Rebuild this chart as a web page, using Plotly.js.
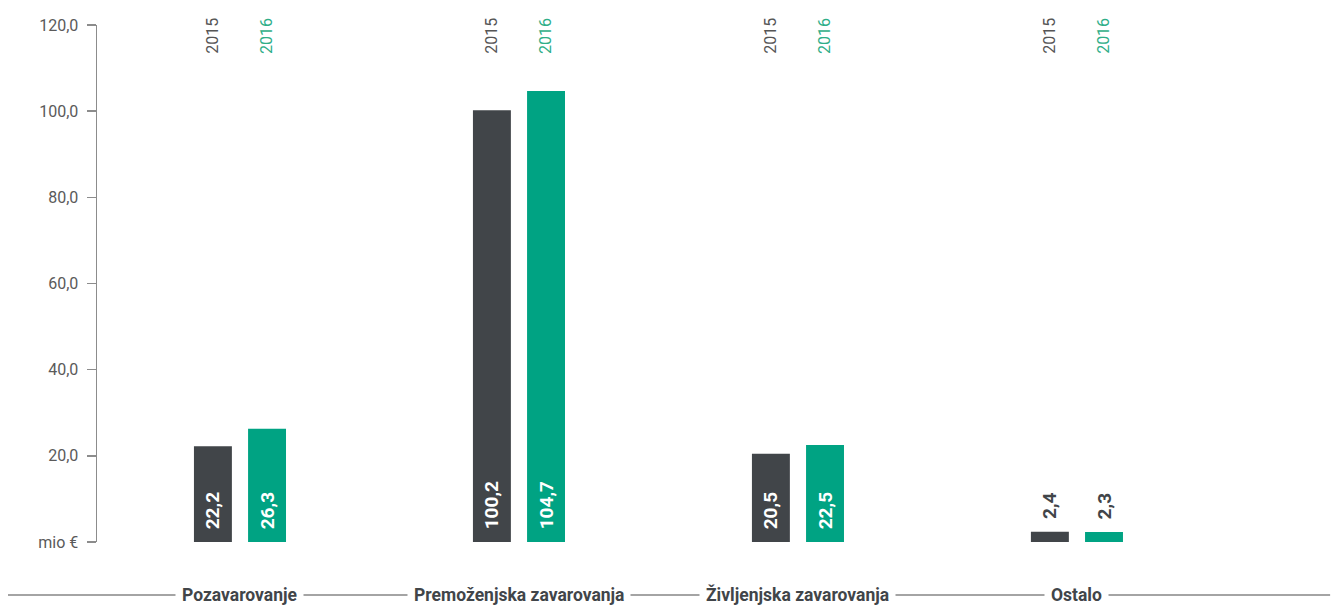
<!DOCTYPE html>
<html>
<head>
<meta charset="utf-8">
<script src="https://cdn.plot.ly/plotly-3.0.1.min.js"></script>
<style>
  html, body { margin: 0; padding: 0; background: #ffffff; }
  #chart { width: 1332px; height: 605px; }
</style>
</head>
<body>
<div id="chart"></div>
<script>
// ---- data ----
const categories = ['Pozavarovanje', 'Premoženjska zavarovanja', 'Življenjska zavarovanja', 'Ostalo'];
const years = ['2015', '2016'];
const values2015 = [22.2, 100.2, 20.5, 2.4];
const values2016 = [26.3, 104.7, 22.5, 2.3];
const yTickVals = [0, 20, 40, 60, 80, 100, 120];
const yTickText = ['mio €', '20,0', '40,0', '60,0', '80,0', '100,0', '120,0'];

// ---- style ----
const FONT = 'Roboto, "Liberation Sans", sans-serif';
const DARK = '#414549';
const GREEN = '#00a383';
const GREEN_LIGHT = '#2fae88';
const GREY_TXT = '#5a5a5a';
const AXIS_GREY = '#8c8c8c';

const barWidth = 0.136;
const barOffsets = [-0.165, 0.029];
const barColors = [DARK, GREEN];
const yearColors = ['#555555', GREEN_LIGHT];
const seriesValues = [values2015, values2016];

const xIdx = categories.map((c, i) => i);

const traces = seriesValues.map((vals, j) => ({
  type: 'bar',
  name: years[j],
  x: xIdx,
  y: vals,
  width: barWidth,
  offset: barOffsets[j],
  marker: { color: barColors[j], line: { width: 0 } },
  texttemplate: '\u2002%{y:.1f}',
  textposition: vals.map(v => v > 10 ? 'inside' : 'outside'),
  insidetextanchor: 'start',
  textangle: -90,
  insidetextfont: { family: FONT, size: 19, color: '#ffffff', weight: 'bold' },
  outsidetextfont: { family: FONT, size: 19, color: DARK, weight: 'bold' },
  constraintext: 'none',
  cliponaxis: false,
  hoverinfo: 'skip'
}));

const annotations = [];
categories.forEach((c, i) => {
  years.forEach((yr, j) => {
    annotations.push({
      x: i + barOffsets[j] + barWidth / 2,
      y: 0.979,
      xref: 'x', yref: 'paper',
      text: yr,
      textangle: -90,
      showarrow: false,
      xanchor: 'center', yanchor: 'middle',
      font: { family: FONT, size: 16, color: yearColors[j], weight: 'normal' }
    });
  });
  annotations.push({
    x: i, y: -0.1025,
    xref: 'x', yref: 'paper',
    text: c,
    showarrow: false,
    xanchor: 'center', yanchor: 'middle',
    bgcolor: '#ffffff',
    borderpad: 6,
    font: { family: FONT, size: 17.5, color: DARK, weight: 'bold' }
  });
});

const layout = {
  width: 1332,
  height: 605,
  margin: { l: 97, r: 115, t: 25, b: 63 },
  paper_bgcolor: '#ffffff',
  plot_bgcolor: '#ffffff',
  showlegend: false,
  barmode: 'overlay',
  separators: ',.',
  font: { family: FONT, color: GREY_TXT },
  xaxis: {
    range: [-0.5125, 3.502],
    visible: false,
    fixedrange: true
  },
  yaxis: {
    range: [0, 120],
    tickvals: yTickVals,
    ticktext: yTickText,
    ticks: 'outside',
    ticklen: 9,
    tickwidth: 1.5,
    tickcolor: AXIS_GREY,
    showline: true,
    linecolor: AXIS_GREY,
    linewidth: 1.5,
    showgrid: false,
    zeroline: false,
    ticklabelstandoff: 5,
    tickfont: { family: FONT, size: 16, color: GREY_TXT, weight: 'normal' },
    fixedrange: true
  },
  shapes: [{
    type: 'line',
    xref: 'paper', yref: 'paper',
    x0: -0.0795, x1: 1.101,
    y0: -0.1025, y1: -0.1025,
    line: { color: '#4a4a4a', width: 1.1 },
    layer: 'below'
  }],
  annotations: annotations
};

Plotly.newPlot('chart', traces, layout, { displayModeBar: false, staticPlot: true });
</script>
</body>
</html>
